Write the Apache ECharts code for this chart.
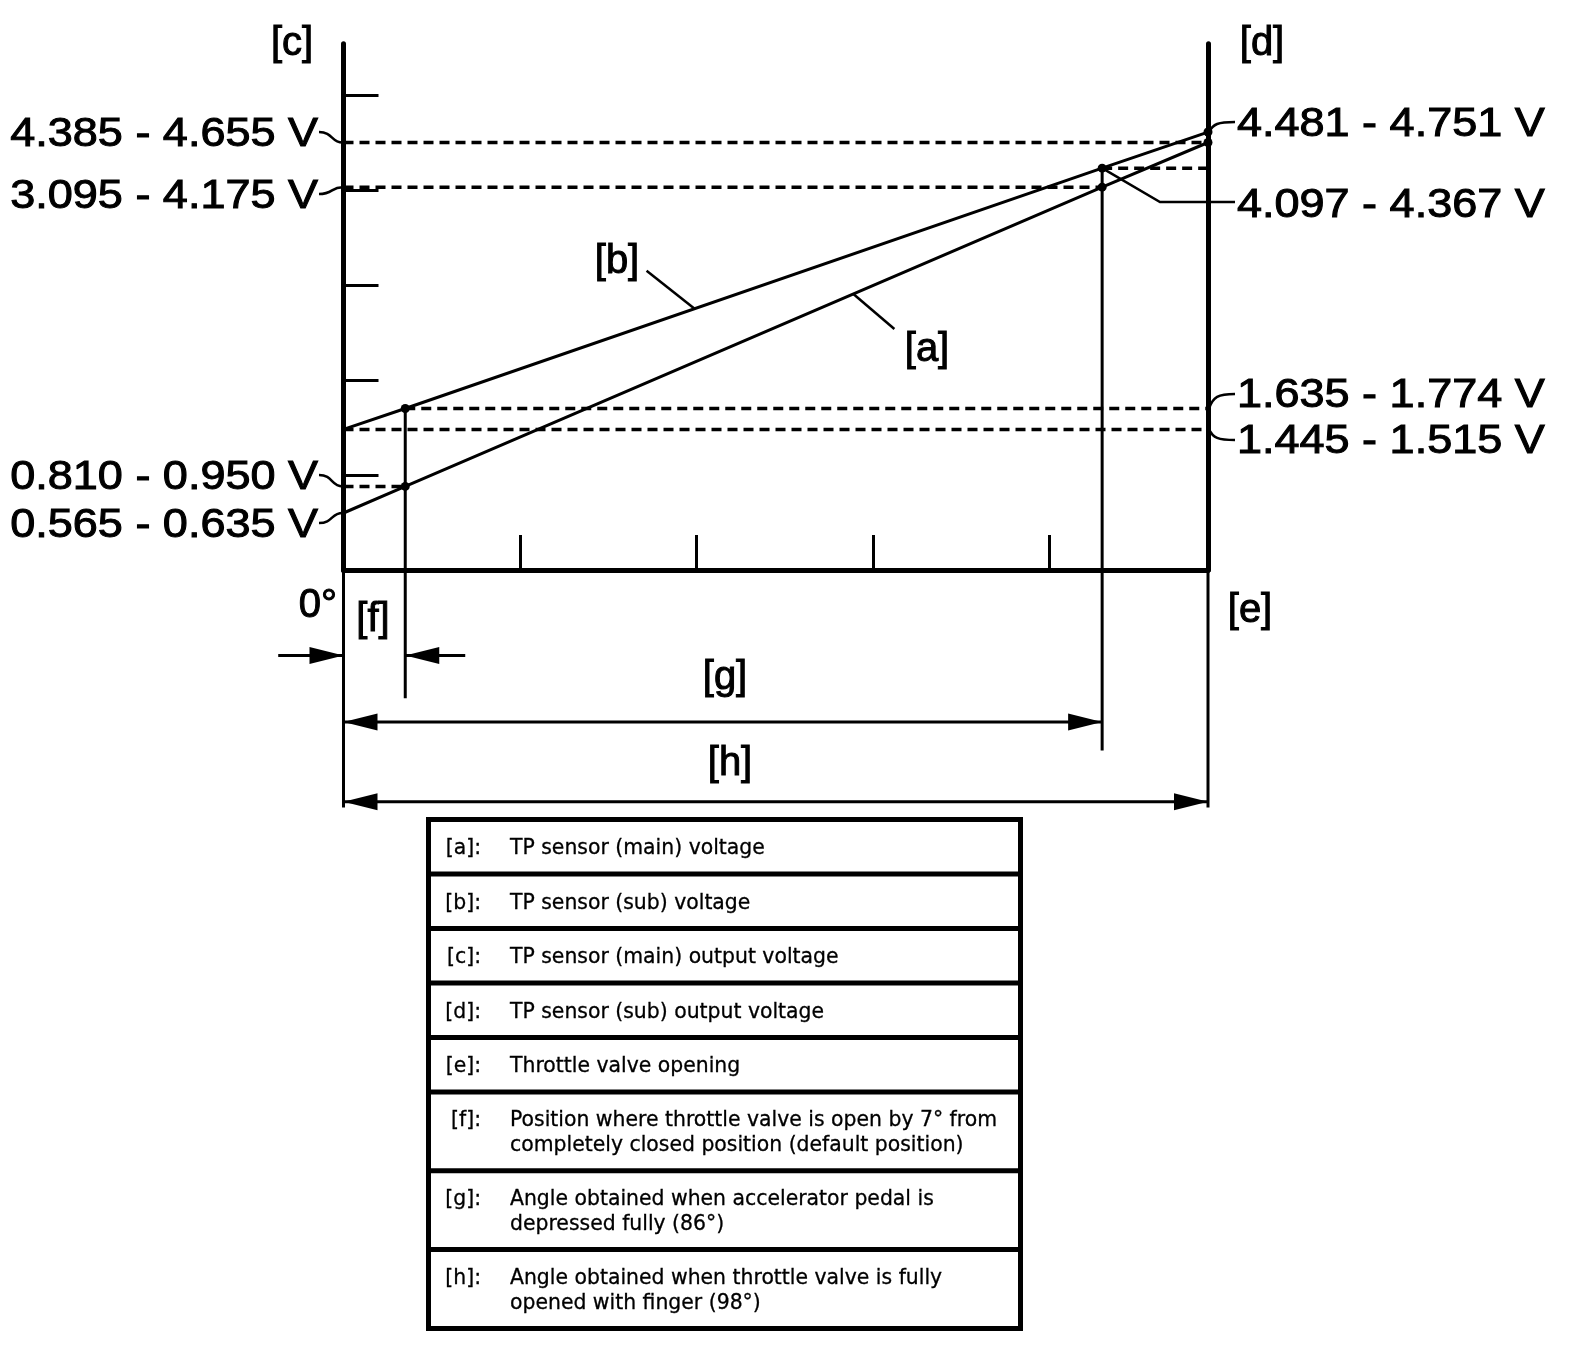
<!DOCTYPE html>
<html>
<head>
<meta charset="utf-8">
<title>TP sensor output voltage vs throttle valve opening</title>
<script src="https://cdn.jsdelivr.net/npm/echarts@6/dist/echarts.min.js"></script>
<style>
  html, body { margin: 0; padding: 0; background: #fff; }
  #chart { width: 1584px; height: 1348px; }
</style>
</head>
<body>
<div id="chart"></div>
<script>
// throttle angle (deg): closed, default [f], pedal fully depressed [g], opened by finger [h]
const angles = [0, 7, 86, 98];
const mainVolts = [0.6, 0.88, 4.03, 4.5];   // [a] TP sensor (main)
const subVolts = [1.48, 1.70, 4.23, 4.61];  // [b] TP sensor (sub)
const angleTicks = [20, 40, 60, 80];
const voltTicks = [1, 2, 3, 4, 5];

const leftLabels = ['4.385 - 4.655 V', '3.095 - 4.175 V', '0.810 - 0.950 V', '0.565 - 0.635 V'];
const rightLabels = ['4.481 - 4.751 V', '4.097 - 4.367 V', '1.635 - 1.774 V', '1.445 - 1.515 V'];

const legendKeys = ['[a]:', '[b]:', '[c]:', '[d]:', '[e]:', '[f]:', '[g]:', '[h]:'];
const legendTexts = [
  ['TP sensor (main) voltage'],
  ['TP sensor (sub) voltage'],
  ['TP sensor (main) output voltage'],
  ['TP sensor (sub) output voltage'],
  ['Throttle valve opening'],
  ['Position where throttle valve is open by 7\u00b0 from', 'completely closed position (default position)'],
  ['Angle obtained when accelerator pedal is', 'depressed fully (86\u00b0)'],
  ['Angle obtained when throttle valve is fully', 'opened with finger (98\u00b0)']
];

const INK = '#000';
const X_MAX = 98;
const Y_MAX = 5.54;
const BIG_FONT = '40px "Liberation Sans", Arial, sans-serif';
const TABLE_FONT = '20.4px "DejaVu Sans", Verdana, sans-serif';

const chart = echarts.init(document.getElementById('chart'));

function points(volts) {
  // no dot on the axis itself, only at 7, 86 and 98 deg
  return angles.map((a, i) => ({ value: [a, volts[i]], symbolSize: i === 0 ? 0 : 9 }));
}

// dashed reference lines: [fromAngle, toAngle, volt]
const refLines = [
  [angles[0], angles[3], mainVolts[3]],
  [angles[0], angles[2], mainVolts[2]],
  [angles[2], angles[3], subVolts[2]],
  [angles[1], angles[3], subVolts[1]],
  [angles[0], angles[3], subVolts[0]],
  [angles[0], angles[1], mainVolts[1]]
];

// where the dimension lines sit below the angle axis (in volts)
const dimY = { f: -0.9, g: -1.6, h: -2.44, end: -2.5, fEnd: -1.35, gEnd: -1.9 };

function seg(p1, p2, w, dash) {
  return {
    type: 'line',
    shape: { x1: p1[0], y1: p1[1], x2: p2[0], y2: p2[1] },
    style: { stroke: INK, lineWidth: w, lineDash: dash || null }
  };
}
function head(tip, dir) {
  const L = 34, w = 8.5;
  return {
    type: 'polygon',
    shape: { points: [tip, [tip[0] - dir * L, tip[1] - w], [tip[0] - dir * L, tip[1] + w]] },
    style: { fill: INK }
  };
}

const option = {
  animation: false,
  backgroundColor: '#fff',
  grid: { left: 343.5, right: 376, top: 570 - Y_MAX * 95, bottom: 778 },
  xAxis: {
    type: 'value', min: 0, max: X_MAX,
    axisLine: { lineStyle: { color: INK, width: 5 } },
    axisTick: { inside: true, length: 35, customValues: angleTicks, lineStyle: { color: INK, width: 3 } },
    axisLabel: { show: false },
    splitLine: { show: false }
  },
  yAxis: [{
    type: 'value', min: 0, max: Y_MAX, position: 'left',
    axisLine: { show: true, lineStyle: { color: INK, width: 5 } },
    axisTick: { show: true, inside: true, length: 35, customValues: voltTicks, lineStyle: { color: INK, width: 3 } },
    axisLabel: { show: false },
    splitLine: { show: false }
  }, {
    type: 'value', min: 0, max: Y_MAX, position: 'right',
    axisLine: { show: true, lineStyle: { color: INK, width: 5 } },
    axisTick: { show: false },
    axisLabel: { show: false },
    splitLine: { show: false }
  }],
  series: [{
    name: 'dims',
    type: 'custom',
    silent: true,
    z: 1,
    data: [[0, 0]],
    renderItem: function (params, api) {
      const c = (a, v) => api.coord([a, v]);
      const kids = [];
      // extension lines below the chart
      kids.push(seg(c(0, 0), c(0, dimY.end), 3));
      kids.push(seg(c(X_MAX, 0), c(X_MAX, dimY.end), 3));
      kids.push(seg(c(angles[1], subVolts[1]), c(angles[1], dimY.fEnd), 3));
      kids.push(seg(c(angles[2], subVolts[2]), c(angles[2], dimY.gEnd), 3));
      // [f]: two arrows pointing at 0 and 7 deg
      kids.push(seg(c(-7.4, dimY.f), c(0, dimY.f), 3));
      kids.push(head(c(0, dimY.f), 1));
      kids.push(seg(c(13.8, dimY.f), c(angles[1], dimY.f), 3));
      kids.push(head(c(angles[1], dimY.f), -1));
      // [g] and [h]
      kids.push(seg(c(0, dimY.g), c(angles[2], dimY.g), 3));
      kids.push(head(c(0, dimY.g), -1));
      kids.push(head(c(angles[2], dimY.g), 1));
      kids.push(seg(c(0, dimY.h), c(angles[3], dimY.h), 3));
      kids.push(head(c(0, dimY.h), -1));
      kids.push(head(c(angles[3], dimY.h), 1));
      return { type: 'group', children: kids };
    }
  }, {
    name: 'refs',
    type: 'custom',
    silent: true,
    z: 1,
    data: refLines,
    encode: { x: [0, 1], y: 2 },
    renderItem: function (params, api) {
      const p1 = api.coord([api.value(0), api.value(2)]);
      const p2 = api.coord([api.value(1), api.value(2)]);
      return seg(p1, p2, 3.5, [10, 6]);
    }
  }, {
    name: 'TP sensor (main)',
    type: 'line',
    z: 3,
    clip: false,
    data: points(mainVolts),
    symbol: 'circle',
    itemStyle: { color: INK },
    lineStyle: { color: INK, width: 3 }
  }, {
    name: 'TP sensor (sub)',
    type: 'line',
    z: 3,
    clip: false,
    data: points(subVolts),
    symbol: 'circle',
    itemStyle: { color: INK },
    lineStyle: { color: INK, width: 3 }
  }]
};

chart.setOption(option);

const P = (a, v) => chart.convertToPixel({ seriesIndex: 2 }, [a, v]);
function volt(vs, a) {
  // position on a drawn line, used only to anchor the callout leaders
  for (let i = 1; i < angles.length; i++) {
    if (a <= angles[i]) {
      const t = (a - angles[i - 1]) / (angles[i] - angles[i - 1]);
      return vs[i - 1] + t * (vs[i] - vs[i - 1]);
    }
  }
  return vs[vs.length - 1];
}

// canvas "middle" sits a few px above the visual centre of these glyphs
const NUDGE = 4;
function bigText(x, y, text, align, sx) {
  return {
    type: 'text', x: x, y: y + NUDGE, scaleX: sx || 1, silent: true,
    style: { text: text, font: BIG_FONT, fill: INK, stroke: INK, lineWidth: 1, align: align, verticalAlign: 'middle' }
  };
}
function curve(p0, c1, c2, p3) {
  return {
    type: 'bezierCurve', silent: true,
    shape: { x1: p0[0], y1: p0[1], cpx1: c1[0], cpy1: c1[1], cpx2: c2[0], cpy2: c2[1], x2: p3[0], y2: p3[1] },
    style: { stroke: INK, lineWidth: 2.5, fill: null }
  };
}
function poly(pts) {
  return { type: 'polyline', silent: true, shape: { points: pts }, style: { stroke: INK, lineWidth: 2.5, fill: null } };
}

const g = [];

// left voltage callouts
const leftY = [131, 193, 474, 522];
const leftAnchor = [mainVolts[3], mainVolts[2], mainVolts[1], mainVolts[0]];
leftLabels.forEach((t, i) => {
  g.push(bigText(318, leftY[i], t, 'right', 1.125));
  const a = P(0, leftAnchor[i]);
  const ty = leftY[i] + 1;
  g.push(curve([319, ty], [333, ty], [331, a[1]], [a[0] - 1, a[1]]));
});

// right voltage callouts
const rightY = [121, 202, 392, 438];
const rightAnchor = [subVolts[3], null, subVolts[1], subVolts[0]];
rightLabels.forEach((t, i) => {
  g.push(bigText(1237, rightY[i], t, 'left', 1.125));
  if (rightAnchor[i] !== null) {
    const a = P(X_MAX, rightAnchor[i]);
    const ty = rightY[i] + (i === 0 ? 1 : 2);
    g.push(curve([a[0] + 1, a[1]], [a[0] + 5, ty + (a[1] - ty) * 0.2], [a[0] + 10, ty], [1235, ty]));
  } else {
    const a = P(angles[2], subVolts[2]);
    g.push(poly([a, [1160, 202], [1235, 202]]));
  }
});

// bracket labels
g.push(bigText(292, 40, '[c]', 'center'));
g.push(bigText(1262, 40, '[d]', 'center'));
g.push(bigText(617, 258, '[b]', 'center'));
g.push(bigText(927, 346, '[a]', 'center'));
g.push(bigText(373, 616, '[f]', 'center'));
g.push(bigText(1250, 607, '[e]', 'center'));
g.push(bigText(725, 674, '[g]', 'center'));
g.push(bigText(730, 760, '[h]', 'center'));
g.push(bigText(337, 602, '0\u00b0', 'right'));

// leaders from [b] and [a] to their lines
const bAt = P(39.8, volt(subVolts, 39.8));
g.push(poly([[bAt[0] - 48, bAt[1] - 38], bAt]));
const aAt = P(57.8, volt(mainVolts, 57.8));
g.push(poly([aAt, [aAt[0] + 41, aAt[1] + 35]]));

// legend table
const tLeft = 428.5, tRight = 1020.5, tTop = 819.5;
const rowH = legendTexts.map(r => (r.length > 1 ? 78.8 : 54.5));
let y = tTop;
legendTexts.forEach((lines, i) => {
  const mid = y + rowH[i] / 2 + 2;
  g.push({
    type: 'text', x: 481, y: mid - (lines.length - 1) * 12.3, silent: true,
    style: { text: legendKeys[i], font: TABLE_FONT, fill: INK, stroke: INK, lineWidth: 0.3, align: 'right', verticalAlign: 'middle' }
  });
  lines.forEach((ln, j) => {
    g.push({
      type: 'text', x: 510, y: mid + (j - (lines.length - 1) / 2) * 24.6, silent: true,
      style: { text: ln, font: TABLE_FONT, fill: INK, stroke: INK, lineWidth: 0.3, align: 'left', verticalAlign: 'middle' }
    });
  });
  y += rowH[i];
  if (i < legendTexts.length - 1) {
    g.push({ type: 'line', silent: true, shape: { x1: tLeft, y1: y, x2: tRight, y2: y }, style: { stroke: INK, lineWidth: 5 } });
  }
});
g.push({
  type: 'rect', silent: true,
  shape: { x: tLeft, y: tTop, width: tRight - tLeft, height: y - tTop },
  style: { fill: null, stroke: INK, lineWidth: 5 }
});

chart.setOption({ graphic: { elements: g } });
</script>
</body>
</html>
